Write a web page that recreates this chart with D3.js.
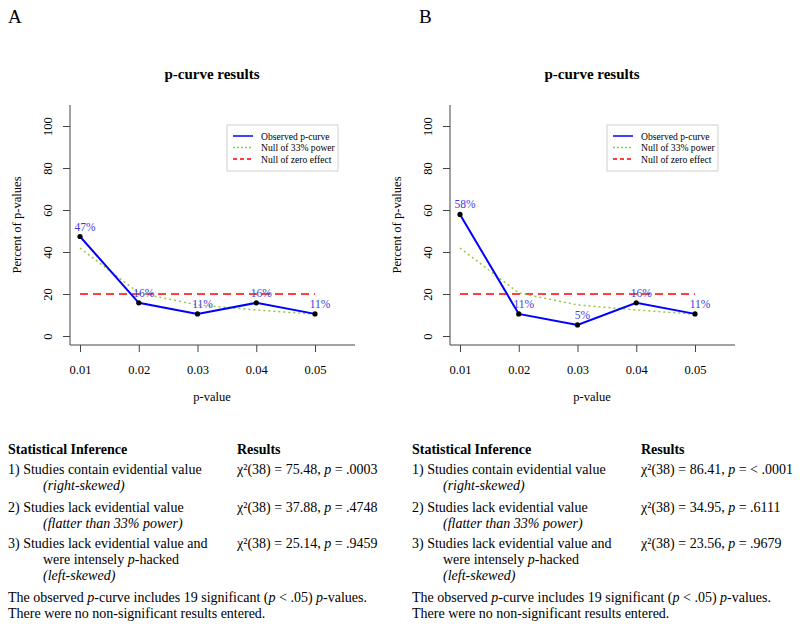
<!DOCTYPE html>
<html>
<head>
<meta charset="utf-8">
<script src="https://cdn.jsdelivr.net/npm/d3@7"></script>
<style>
  body { margin: 0; background: #fff; }
  svg { font-family: "Liberation Serif", "Times New Roman", serif; }
</style>
</head>
<body>
<script>
const pvals = [0.01, 0.02, 0.03, 0.04, 0.05];
const observedA = [47.37, 15.79, 10.53, 15.79, 10.53];
const observedB = [57.89, 10.53, 5.26, 15.79, 10.53];
const power33 = [41.9, 20.5, 14.8, 12.4, 10.4];
const zeroEffect = [20, 20, 20, 20, 20];
const yTicks = [0, 20, 40, 60, 80, 100];
const legendLabels = ["Observed p-curve", "Null of 33% power", "Null of zero effect"];

const resultsA = [["75.48", ".0003"], ["37.88", ".4748"], ["25.14", ".9459"]];
const resultsB = [["86.41", "< .0001"], ["34.95", ".6111"], ["23.56", ".9679"]];

const w = 800;
const h = 630;

const svg = d3.select("body").append("svg").attr("width", w).attr("height", h);

function drawPanel(ax, letter, letterX, observed) {
  const g = svg.append("g");

  // scales, relative to the y axis position
  const xScale = d3.scaleLinear().domain([0.01, 0.05]).range([ax + 10, ax + 245]);
  const yScale = d3.scaleLinear().domain([0, 100]).range([336, 126]);

  g.append("text").attr("x", letterX).attr("y", 23).attr("font-size", 19).text(letter);

  g.append("text")
    .attr("x", ax + 142).attr("y", 79)
    .attr("text-anchor", "middle").attr("font-size", 15).attr("font-weight", "bold")
    .text("p-curve results");

  //L shaped box
  g.append("path")
    .attr("d", `M${ax},105V345H${ax + 285}`)
    .attr("fill", "none").attr("stroke", "#444").attr("stroke-width", 1);

  const yAxis = d3.axisLeft(yScale).tickValues(yTicks).tickSize(7).tickFormat(d3.format("d"));
  const yg = g.append("g").attr("transform", `translate(${ax},0)`).call(yAxis);
  yg.select(".domain").remove();
  yg.selectAll("line").attr("stroke", "#444");
  yg.selectAll("text")
    .attr("transform", "rotate(-90)")
    .attr("x", 0).attr("y", -22).attr("dy", "0.35em")
    .attr("text-anchor", "middle")
    .attr("font-size", 12.5).attr("font-family", "Liberation Serif").attr("fill", "#000");

  const xAxis = d3.axisBottom(xScale).tickValues(pvals).tickSize(7).tickPadding(13).tickFormat(d3.format(".2f"));
  const xg = g.append("g").attr("transform", "translate(0,345)").call(xAxis);
  xg.select(".domain").remove();
  xg.selectAll("line").attr("stroke", "#444");
  xg.selectAll("text").attr("font-size", 12.5).attr("font-family", "Liberation Serif").attr("fill", "#000");

  g.append("text")
    .attr("x", ax + 142).attr("y", 401)
    .attr("text-anchor", "middle").attr("font-size", 12.5)
    .text("p-value");

  g.append("text")
    .attr("transform", `translate(${ax - 49},225) rotate(-90)`)
    .attr("text-anchor", "middle").attr("font-size", 12.6)
    .text("Percent of p-values");

  const line = d3.line().x((d, i) => xScale(pvals[i])).y((d) => yScale(d));

  g.append("path").datum(zeroEffect).attr("d", line)
    .attr("fill", "none").attr("stroke", "#ff0000").attr("stroke-width", 1.3)
    .attr("stroke-dasharray", "8,5");

  g.append("path").datum(power33).attr("d", line)
    .attr("fill", "none").attr("stroke", "#94c840").attr("stroke-width", 1.5)
    .attr("stroke-dasharray", "2,3");

  g.append("path").datum(observed).attr("d", line)
    .attr("fill", "none").attr("stroke", "#0000ff").attr("stroke-width", 2);

  g.selectAll(".pt")
    .data(observed)
    .enter()
    .append("circle")
    .attr("cx", (d, i) => xScale(pvals[i]))
    .attr("cy", (d) => yScale(d))
    .attr("r", 2.6)
    .attr("fill", "#000");

  g.selectAll(".lbl")
    .data(observed)
    .enter()
    .append("text")
    .attr("x", (d, i) => xScale(pvals[i]) + 5)
    .attr("y", (d) => yScale(d) - 6)
    .attr("text-anchor", "middle")
    .attr("font-size", 11.5)
    .attr("fill", "#3b3bdc")
    .text((d) => Math.round(d) + "%");

  // legend
  const lg = g.append("g").attr("transform", `translate(${ax + 157},125)`);
  lg.append("rect").attr("width", 111).attr("height", 46)
    .attr("fill", "#fff").attr("stroke", "#d0d0d0");
  const styles = [
    { c: "#0000ff", d: null, sw: 1.5 },
    { c: "#94c840", d: "2,2", sw: 1.3 },
    { c: "#ff0000", d: "4,3", sw: 1.3 },
  ];
  legendLabels.forEach((lab, i) => {
    const yy = 11 + i * 11.5;
    lg.append("line").attr("x1", 6).attr("x2", 26).attr("y1", yy).attr("y2", yy)
      .attr("stroke", styles[i].c).attr("stroke-width", styles[i].sw)
      .attr("stroke-dasharray", styles[i].d);
    lg.append("text").attr("x", 34).attr("y", yy + 3.5).attr("font-size", 9.6).text(lab);
  });
}

function drawStats(x0, xr, indent, results) {
  const g = svg.append("g").attr("font-size", 14);
  g.append("text").attr("x", x0).attr("y", 454).attr("font-weight", "bold").text("Statistical Inference");
  g.append("text").attr("x", xr).attr("y", 454).attr("font-weight", "bold").text("Results");

  const rows = [
    { y: 474, t: "1) Studies contain evidential value" },
    { y: 490, t: "(right-skewed)", i: true, ind: true },
    { y: 512, t: "2) Studies lack evidential value" },
    { y: 528, t: "(flatter than 33% power)", i: true, ind: true },
    { y: 548, t: "3) Studies lack evidential value and" },
    { y: 564, t: "were intensely ", p: "-hacked", ind: true },
    { y: 580, t: "(left-skewed)", i: true, ind: true },
  ];
  rows.forEach((r) => {
    const t = g.append("text").attr("x", r.ind ? x0 + indent : x0).attr("y", r.y);
    if (r.i) t.attr("font-style", "italic");
    t.append("tspan").text(r.t);
    if (r.p) {
      t.append("tspan").attr("font-style", "italic").text("p");
      t.append("tspan").text(r.p);
    }
  });

  [474, 512, 548].forEach((yy, i) => {
    const t = g.append("text").attr("x", xr).attr("y", yy);
    t.append("tspan").text("\u03c7\u00b2(38) = " + results[i][0] + ", ");
    t.append("tspan").attr("font-style", "italic").text("p");
    t.append("tspan").text(" = " + results[i][1]);
  });

  const f = g.append("text").attr("x", x0).attr("y", 602);
  f.append("tspan").text("The observed ");
  f.append("tspan").attr("font-style", "italic").text("p");
  f.append("tspan").text("-curve includes 19 significant (");
  f.append("tspan").attr("font-style", "italic").text("p");
  f.append("tspan").text(" < .05) ");
  f.append("tspan").attr("font-style", "italic").text("p");
  f.append("tspan").text("-values.");

  g.append("text").attr("x", x0).attr("y", 618).text("There were no non-significant results entered.");
}

drawPanel(70, "A", 8, observedA);
drawPanel(450, "B", 419, observedB);
drawStats(8, 237, 35, resultsA);
drawStats(412, 641, 31, resultsB);
</script>
</body>
</html>
